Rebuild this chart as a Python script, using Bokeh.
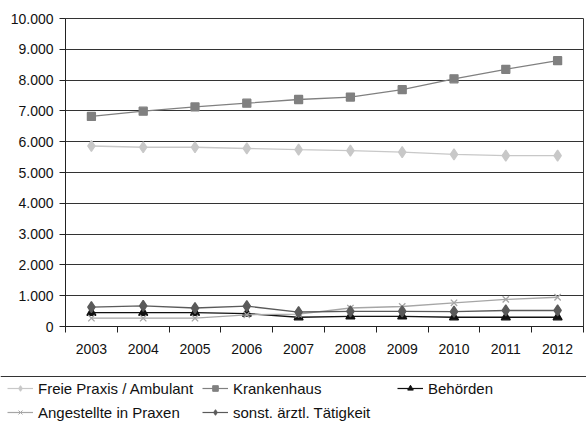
import numpy as np
from bokeh.plotting import figure
from bokeh.layouts import column
from bokeh.models import (Range1d, FixedTicker, Legend, LegendItem, Span)
from bokeh.embed import file_html
from bokeh.resources import INLINE

years = ["2003", "2004", "2005", "2006", "2007", "2008", "2009", "2010", "2011", "2012"]
freie_praxis = [5860, 5820, 5820, 5780, 5740, 5710, 5660, 5590, 5550, 5550]
krankenhaus = [6820, 6990, 7130, 7250, 7370, 7450, 7690, 8040, 8350, 8630]
behoerden = [450, 450, 450, 420, 300, 330, 330, 300, 300, 300]
angestellte = [270, 270, 270, 380, 400, 600, 650, 770, 880, 950]
sonstige = [630, 670, 600, 660, 470, 490, 490, 480, 520, 520]
y_ticks = list(range(0, 10001, 1000))

FONT = "Liberation Sans"
W = 586

xs = np.arange(len(years)) + 0.5

p = figure(width=W, height=370, output_backend="svg", toolbar_location=None,
           x_range=Range1d(0, len(years)), y_range=Range1d(0, 10000),
           min_border_left=65, min_border_right=3, min_border_top=18, min_border_bottom=44)
p.background_fill_color = "white"
p.border_fill_color = "white"
p.outline_line_color = "#333333"
p.outline_line_width = 1

# axes
p.xaxis.ticker = FixedTicker(ticks=list(xs), minor_ticks=list(range(len(years) + 1)))
p.xaxis.major_label_overrides = {float(x): y for x, y in zip(xs, years)}
p.xaxis.major_tick_out = 0
p.xaxis.major_tick_in = 0
p.xaxis.minor_tick_out = 6
p.xaxis.minor_tick_in = 0
p.xaxis.minor_tick_line_color = "#222222"
p.xaxis.axis_line_color = "#222222"
p.xaxis.major_label_text_font = FONT
p.xaxis.major_label_text_font_size = "14px"
p.xaxis.major_label_text_color = "#111111"
p.xaxis.major_label_standoff = 11

p.yaxis.ticker = FixedTicker(ticks=y_ticks)
p.yaxis.major_label_overrides = {v: f"{v:,}".replace(",", ".") for v in y_ticks}
p.yaxis.major_tick_out = 6
p.yaxis.major_tick_in = 0
p.yaxis.minor_tick_line_color = None
p.yaxis.axis_line_color = "#222222"
p.yaxis.major_tick_line_color = "#222222"
p.yaxis.major_label_text_font = FONT
p.yaxis.major_label_text_font_size = "14px"
p.yaxis.major_label_text_color = "#111111"
p.yaxis.major_label_standoff = 6

p.xgrid.grid_line_color = None
p.ygrid.grid_line_color = "#333333"
p.ygrid.grid_line_width = 1

series = [
    ("Freie Praxis / Ambulant", freie_praxis, "#c8c8c8", "diamond", 11),
    ("Krankenhaus", krankenhaus, "#808080", "square", 8),
    ("Behörden", behoerden, "#111111", "triangle", 9),
    ("Angestellte in Praxen", angestellte, "#a6a6a6", "x", 9),
    ("sonst. ärztl. Tätigkeit", sonstige, "#5a5a5a", "diamond", 11),
]

# legend figure below the chart (its ranges keep the copies of the series out of view)
lg = figure(width=W, height=56, output_backend="svg", toolbar_location=None,
            x_range=Range1d(-200, -199), y_range=Range1d(-200, -144),
            x_axis_location=None, y_axis_location=None,
            min_border=0, min_border_left=0, min_border_right=0,
            min_border_top=0, min_border_bottom=0)
lg.outline_line_color = None
lg.xgrid.grid_line_color = None
lg.ygrid.grid_line_color = None
lg.add_layout(Span(location=-150, dimension="width", line_color="#333333", line_width=1.2))

items = []
for name, vals, color, marker, size in series:
    p.line(xs, vals, line_color=color, line_width=1.3)
    p.scatter(xs, vals, marker=marker, size=size, fill_color=color, line_color=color, line_width=1.3)
    l1 = lg.line(xs, vals, line_color=color, line_width=1.2)
    l2 = lg.scatter(xs, vals, marker=marker, size=size * 0.6, fill_color=color, line_color=color, line_width=1.0)
    items.append(LegendItem(label=name, renderers=[l1, l2]))

legend = Legend(items=items, orientation="horizontal", ncols=3,
                location=(7, 2), padding=0, margin=0, spacing=0,
                glyph_width=26, glyph_height=14, label_height=24,
                label_standoff=5, label_width=164,
                label_text_font=FONT, label_text_font_size="15px",
                label_text_color="#111111",
                border_line_color=None, background_fill_alpha=0)
lg.add_layout(legend, "center")

layout = column(p, column(lg, spacing=0), spacing=0)
open("out.html", "w").write(file_html(layout, INLINE))
